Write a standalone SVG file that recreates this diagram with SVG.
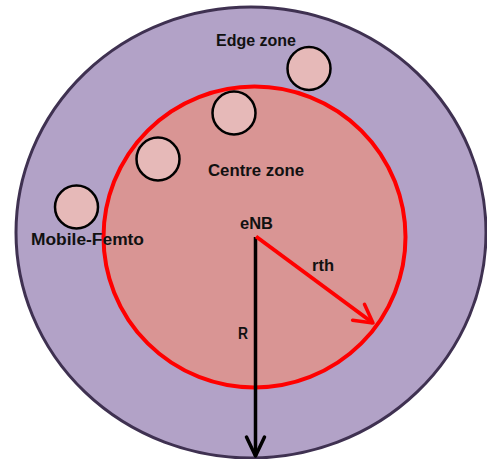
<svg xmlns="http://www.w3.org/2000/svg" width="487" height="459" viewBox="0 0 487 459">
<style>
.lbl{font-family:"Liberation Sans",Arial,sans-serif;font-weight:bold;font-size:16px;fill:#111}
.femto{fill:#e6b9b8;stroke:#000;stroke-width:2.5}
</style>
<defs>
<marker id="chevK" markerUnits="userSpaceOnUse" viewBox="-22 -12 24 24" refX="0" refY="0" markerWidth="24" markerHeight="24" orient="auto" overflow="visible">
<path d="M-19,-9 L0,0 L-19,9" fill="none" stroke="#000" stroke-width="3.5" stroke-linecap="round" stroke-linejoin="round"/>
</marker>
<marker id="chevR" markerUnits="userSpaceOnUse" viewBox="-22 -12 24 24" refX="0" refY="0" markerWidth="24" markerHeight="24" orient="auto" overflow="visible">
<path d="M-18,-10 L0,0 L-18,10" fill="none" stroke="#ff0000" stroke-width="3.5" stroke-linecap="round" stroke-linejoin="round"/>
</marker>
</defs>
<g id="edge-zone">
<ellipse cx="251" cy="232.5" rx="235" ry="225.5" fill="#b2a2c7" stroke="#3f3151" stroke-width="3"/>
</g>
<g id="centre-zone">
<ellipse cx="254.5" cy="237" rx="151" ry="150.5" fill="#d99594" stroke="#ff0000" stroke-width="4"/>
</g>
<g id="femto1"><circle class="femto" cx="309" cy="68.5" r="21.5"/></g>
<g id="femto2"><circle class="femto" cx="234" cy="113" r="21.5"/></g>
<g id="femto3"><circle class="femto" cx="158" cy="159" r="21.5"/></g>
<g id="femto4"><circle class="femto" cx="76.5" cy="207" r="21.5"/></g>
<g id="connectors">
<line x1="255.5" y1="237" x2="255.5" y2="456" stroke="#000" stroke-width="3.5" marker-end="url(#chevK)"/>
<line x1="256" y1="236.5" x2="373" y2="323" stroke="#ff0000" stroke-width="4" marker-end="url(#chevR)"/>
</g>
<g id="labels">
<text class="lbl" x="216" y="46" textLength="80" lengthAdjust="spacingAndGlyphs">Edge zone</text>
<text class="lbl" x="208" y="176" textLength="96" lengthAdjust="spacingAndGlyphs">Centre zone</text>
<text class="lbl" x="31" y="245" textLength="113" lengthAdjust="spacingAndGlyphs">Mobile-Femto</text>
<text class="lbl" x="240" y="229" textLength="33" lengthAdjust="spacingAndGlyphs">eNB</text>
<text class="lbl" x="312" y="271" textLength="22" lengthAdjust="spacingAndGlyphs">rth</text>
<text class="lbl" x="238" y="339" textLength="10" lengthAdjust="spacingAndGlyphs">R</text>
</g>
</svg>
